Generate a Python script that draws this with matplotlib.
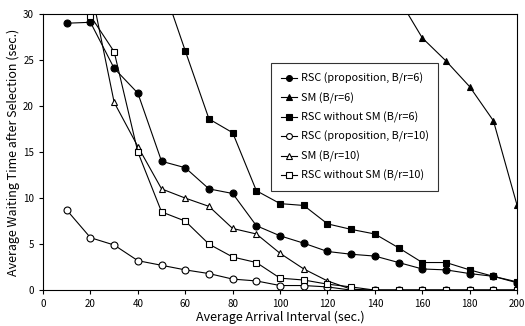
import matplotlib
matplotlib.use('Agg')
import matplotlib.pyplot as plt

plt.rcParams['font.family'] = ['Noto Sans CJK JP', 'DejaVu Sans']

# arrival interval (sec.)
x_all = [10, 20, 30, 40, 50, 60, 70, 80, 90, 100,
         110, 120, 130, 140, 150, 160, 170, 180, 190, 200]

rsc_prop_6 = [29.0, 29.1, 24.1, 21.4, 14.0, 13.3, 11.0, 10.5, 7.0, 5.9,
              5.1, 4.2, 3.9, 3.7, 3.0, 2.3, 2.2, 1.8, 1.5, 0.8]

x_sm_6 = [140, 150, 160, 170, 180, 190, 200]
sm_6 = [36.0, 31.7, 27.4, 24.9, 22.1, 18.4, 9.2]

x_nosm_6 = [50, 60, 70, 80, 90, 100, 110, 120, 130, 140, 150, 160, 170, 180, 190, 200]
nosm_6 = [33.5, 26.0, 18.6, 17.1, 10.8, 9.4, 9.2, 7.2, 6.6, 6.1, 4.6, 3.0, 3.0, 2.2, 1.5, 0.9]

rsc_prop_10 = [8.7, 5.7, 4.9, 3.2, 2.7, 2.2, 1.8, 1.2, 1.0, 0.5,
               0.5, 0.35, 0.0, 0.0, 0.0, 0.0, 0.0, 0.0, 0.0, 0.0]

x_from20 = x_all[1:]
sm_10 = [33.0, 20.4, 15.6, 11.0, 10.0, 9.1, 6.7, 6.1, 4.0, 2.3,
         1.0, 0.1, 0.0, 0.0, 0.0, 0.0, 0.0, 0.0, 0.0]
nosm_10 = [29.8, 25.9, 15.0, 8.5, 7.5, 5.0, 3.6, 3.0, 1.3, 1.1,
           0.65, 0.35, 0.0, 0.0, 0.0, 0.0, 0.0, 0.0, 0.0]

fig = plt.figure(figsize=(5.25, 3.26), dpi=100)
ax = fig.add_axes([0.082, 0.110, 0.903, 0.847])

common = dict(color='black', lw=0.8, markersize=5, markeredgewidth=0.8)
ax.plot(x_all, rsc_prop_6, marker='o', label='RSC (proposition, B/r=6)', **common)
ax.plot(x_sm_6, sm_6, marker='^', label='SM (B/r=6)', **common)
ax.plot(x_nosm_6, nosm_6, marker='s', label='RSC without SM (B/r=6)', **common)
ax.plot(x_all, rsc_prop_10, marker='o', mfc='white', label='RSC (proposition, B/r=10)', **common)
ax.plot(x_from20, sm_10, marker='^', mfc='white', label='SM (B/r=10)', **common)
ax.plot(x_from20, nosm_10, marker='s', mfc='white', label='RSC without SM (B/r=10)', **common)

ax.set_xlim(0, 200)
ax.set_ylim(0, 30)
ax.set_xticks(range(0, 201, 20))
ax.set_yticks(range(0, 31, 5))
ax.tick_params(labelsize=7, length=3, width=0.8, direction='out')
for s in ax.spines.values():
    s.set_linewidth(0.8)

ax.set_xlabel('Average Arrival Interval (sec.)', fontsize=9, labelpad=1)
ax.set_ylabel('Average Waiting Time after Selection (sec.)', fontsize=9, labelpad=2)

leg = ax.legend(loc='upper left', bbox_to_anchor=(0.47, 0.842), fontsize=7.8,
                frameon=True, fancybox=False, handlelength=1.5, handletextpad=0.3,
                labelspacing=0.75, borderpad=0.9, markerscale=0.85)
leg.get_frame().set_edgecolor('black')
leg.get_frame().set_linewidth(0.8)

fig.savefig('out.png', dpi=100)
